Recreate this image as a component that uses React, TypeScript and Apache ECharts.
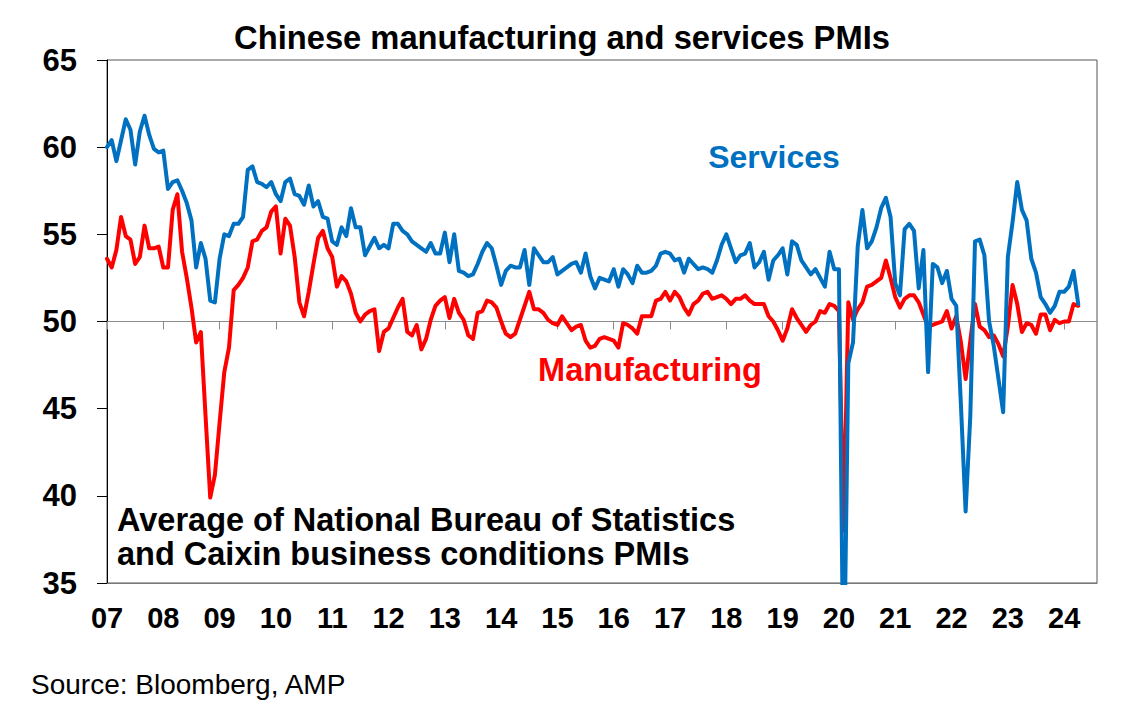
import React, { useEffect, useRef } from 'react';
import * as echarts from 'echarts';

const FONT = '"Liberation Sans", Arial, sans-serif';

// monthly categories, Jan 2007 .. Aug 2024 (axis runs a few months past the data)
const months: string[] = [];
for (let y = 2007; y <= 2024; y++) {
  for (let m = 1; m <= 12; m++) {
    if (y === 2024 && m > 8) break;
    months.push(`${y}-${String(m).padStart(2, '0')}`);
  }
}

const yearLabels = ['07', '08', '09', '10', '11', '12', '13', '14', '15', '16', '17', '18', '19', '20', '21', '22', '23', '24'];

// average of NBS non-manufacturing and Caixin services PMIs
const services = [
  60.0, 60.4, 59.2, 60.4, 61.6, 61.0, 59.0, 60.9, 61.8, 60.7, 59.9, 59.7, // 2007
  59.8, 57.6, 58.0, 58.1, 57.5, 56.8, 55.8, 53.1, 54.5, 53.6, 51.2, 51.1, // 2008
  53.6, 55.0, 54.9, 55.6, 55.6, 56.0, 58.7, 58.9, 58.0, 57.9, 57.7, 58.0, // 2009
  57.3, 56.9, 58.0, 58.2, 57.3, 57.2, 56.7, 57.8, 56.6, 56.9, 56.0, 55.9, // 2010
  54.6, 54.4, 55.4, 54.9, 56.5, 55.4, 55.4, 53.8, 54.3, 54.8, 54.2, 54.4, // 2011
  54.2, 55.6, 55.6, 55.2, 55.0, 54.6, 54.4, 54.2, 54.0, 54.5, 53.9, 53.9, // 2012
  55.1, 53.4, 55.0, 52.9, 52.8, 52.6, 52.7, 53.3, 54.0, 54.5, 54.2, 53.2, // 2013
  52.1, 52.9, 53.2, 53.1, 53.1, 54.1, 52.1, 54.2, 53.8, 53.4, 53.4, 53.7, // 2014
  52.7, 52.9, 53.1, 53.3, 53.4, 52.8, 53.9, 52.6, 51.9, 52.5, 52.4, 52.3, // 2015
  53.0, 52.0, 53.0, 52.7, 52.2, 53.2, 52.8, 52.8, 52.9, 53.2, 53.9, 54.0, // 2016
  53.9, 53.5, 53.6, 52.8, 53.6, 53.3, 53.0, 53.1, 53.0, 52.8, 53.5, 54.4, // 2017
  55.0, 54.2, 53.4, 53.8, 53.9, 54.5, 53.1, 53.4, 54.0, 52.4, 53.5, 53.8, // 2018
  54.2, 52.7, 54.6, 54.4, 53.5, 53.1, 52.7, 53.0, 52.5, 52.0, 54.0, 53.0, // 2019
  53.0, 28.0, 47.6, 48.8, 54.3, 56.4, 54.2, 54.6, 55.4, 56.5, 57.1, 56.0, // 2020
  52.2, 51.5, 55.3, 55.6, 55.2, 51.9, 54.1, 47.1, 53.3, 53.1, 52.2, 52.9, // 2021
  51.3, 50.9, 45.2, 39.1, 44.6, 54.6, 54.7, 53.8, 50.0, 48.6, 46.7, 44.8, // 2022
  53.7, 55.7, 58.0, 56.4, 55.8, 53.6, 52.8, 51.4, 51.0, 50.5, 50.9, 51.7, // 2023
  51.7, 52.0, 52.9, 51.0, // 2024
];

// average of NBS and Caixin manufacturing PMIs
const manufacturing = [
  53.6, 53.1, 54.1, 56.0, 54.9, 54.7, 53.3, 53.7, 55.5, 54.2, 54.2, 54.3, // 2007
  53.1, 53.1, 56.4, 57.3, 54.0, 52.5, 50.8, 48.8, 49.4, 44.6, 39.9, 41.2, // 2008
  44.2, 47.1, 48.5, 51.8, 52.1, 52.5, 53.1, 54.6, 54.7, 55.2, 55.4, 56.3, // 2009
  56.6, 53.9, 55.9, 55.5, 53.7, 51.1, 50.3, 51.7, 53.3, 54.8, 55.2, 54.2, // 2010
  53.7, 52.0, 52.6, 52.3, 51.6, 50.5, 50.0, 50.4, 50.6, 50.7, 48.3, 49.4, // 2011
  49.6, 50.2, 50.8, 51.3, 49.4, 49.2, 49.8, 48.4, 49.0, 50.1, 50.9, 51.2, // 2012
  51.4, 50.2, 51.3, 50.5, 50.1, 49.2, 49.0, 50.5, 50.6, 51.2, 51.1, 50.8, // 2013
  50.0, 49.3, 49.1, 49.3, 50.1, 50.9, 51.7, 50.7, 50.7, 50.5, 50.1, 49.9, // 2014
  49.8, 50.3, 49.9, 49.5, 49.7, 49.8, 48.9, 48.5, 48.6, 49.0, 49.1, 49.0, // 2015
  48.9, 48.5, 49.9, 49.8, 49.6, 49.3, 50.3, 50.3, 50.3, 51.2, 51.3, 51.7, // 2016
  51.2, 51.7, 51.4, 50.8, 50.4, 51.0, 51.2, 51.6, 51.7, 51.3, 51.4, 51.5, // 2017
  51.3, 51.0, 51.3, 51.3, 51.5, 51.2, 51.0, 51.0, 51.0, 50.3, 50.0, 49.5, // 2018
  48.9, 49.6, 50.7, 50.2, 49.8, 49.4, 49.8, 50.0, 50.6, 50.5, 51.0, 50.9, // 2019
  50.6, 38.0, 51.1, 50.1, 50.7, 51.1, 52.0, 52.1, 52.3, 52.5, 53.5, 52.5, // 2020
  51.4, 50.8, 51.3, 51.5, 51.5, 51.1, 50.4, 49.7, 49.8, 49.9, 50.0, 50.6, // 2021
  49.6, 50.3, 48.8, 46.7, 48.9, 51.0, 49.7, 49.5, 49.1, 49.2, 48.7, 48.0, // 2022
  49.7, 52.1, 51.0, 49.4, 49.9, 49.8, 49.3, 50.4, 50.4, 49.5, 50.1, 49.9, // 2023
  50.0, 50.0, 51.0, 50.9, // 2024
];

const isJan = (i: number) => i % 12 === 0;

function textEl(text: string, x: number, y: number, font: string, fill: string, align = 'left') {
  return {
    type: 'text',
    x,
    y,
    silent: true,
    style: {
      text,
      font,
      fill,
      align,
      textAlign: align,
      verticalAlign: 'middle',
      textVerticalAlign: 'middle',
    },
  };
}

export default function App() {
  const chartRef = useRef<HTMLDivElement>(null);

  useEffect(() => {
    if (!chartRef.current) return;
    const chart = echarts.init(chartRef.current, null, { renderer: 'svg' });

    chart.setOption({
      animation: false,
      backgroundColor: '#ffffff',
      textStyle: { fontFamily: FONT },
      grid: {
        left: 107,
        right: 48,
        top: 60,
        bottom: 138,
        show: true,
        borderColor: '#555555',
        borderWidth: 1,
      },
      xAxis: [
        {
          type: 'category',
          data: months,
          boundaryGap: false,
          position: 'bottom',
          axisLine: { show: true, lineStyle: { color: '#777777', width: 1 } },
          axisTick: { show: false },
          axisLabel: {
            interval: (i: number) => isJan(i),
            formatter: (v: string) => yearLabels[Number(v.slice(0, 4)) - 2007] ?? '',
            color: '#000',
            fontWeight: 'bold',
            fontSize: 29,
            fontFamily: FONT,
            margin: 20,
          },
          splitLine: { show: false },
        },
        {
          // the 50 line with year ticks
          type: 'category',
          data: months,
          boundaryGap: false,
          position: 'bottom',
          offset: -261.5,
          axisLine: { show: true, lineStyle: { color: '#8c8c8c', width: 1 } },
          axisTick: { show: true, interval: (i: number) => isJan(i), length: 8, lineStyle: { color: '#8c8c8c' } },
          axisLabel: { show: false },
          splitLine: { show: false },
        },
      ],
      yAxis: {
        type: 'value',
        min: 35,
        max: 65,
        interval: 5,
        axisLine: { show: true, lineStyle: { color: '#000', width: 1 } },
        axisTick: { show: true, length: 10, lineStyle: { color: '#000' } },
        axisLabel: { color: '#000', fontWeight: 'bold', fontSize: 31, fontFamily: FONT, margin: 30 },
        splitLine: { show: false },
      },
      series: [
        {
          name: 'Manufacturing',
          type: 'line',
          data: manufacturing,
          showSymbol: false,
          symbol: 'none',
          clip: true,
          lineStyle: { color: '#FF0000', width: 4, join: 'round', cap: 'round' },
        },
        {
          name: 'Services',
          type: 'line',
          data: services,
          showSymbol: false,
          symbol: 'none',
          clip: true,
          lineStyle: { color: '#0070C0', width: 4, join: 'round', cap: 'round' },
        },
      ],
      graphic: [
        textEl('Chinese manufacturing and services PMIs', 562, 37, `bold 32.7px ${FONT}`, '#000', 'center'),
        textEl('Services', 774, 157, `bold 32px ${FONT}`, '#0070C0', 'center'),
        textEl('Manufacturing', 650, 370, `bold 32.5px ${FONT}`, '#FF0000', 'center'),
        textEl('Average of National Bureau of Statistics', 117, 519.5, `bold 32.5px ${FONT}`, '#000'),
        textEl('and Caixin business conditions PMIs', 117, 554, `bold 32.5px ${FONT}`, '#000'),
        textEl('Source: Bloomberg, AMP', 31, 684, `28px ${FONT}`, '#000'),
      ],
    });

    return () => chart.dispose();
  }, []);

  return (
    <div
      ref={chartRef}
      style={{ position: 'absolute', left: 0, top: 0, width: 1145, height: 721, background: '#fff' }}
    />
  );
}
